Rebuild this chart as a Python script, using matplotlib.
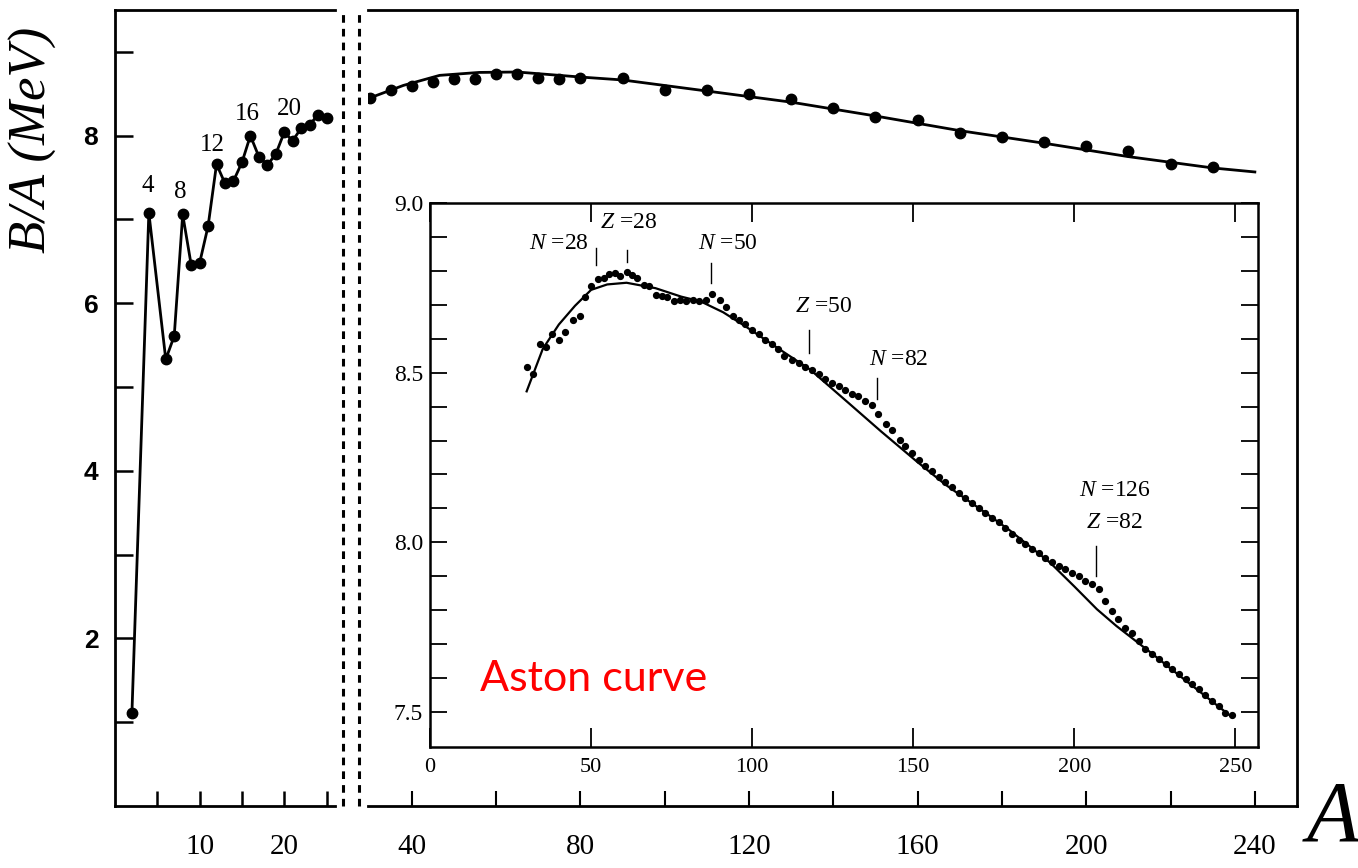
import matplotlib
matplotlib.use("Agg")
import matplotlib.pyplot as plt
from matplotlib.lines import Line2D
from matplotlib.ticker import FixedLocator

plt.rcParams['font.family'] = ['Liberation Serif', 'DejaVu Serif']
plt.rcParams['mathtext.fontset'] = 'custom'
plt.rcParams['mathtext.it'] = 'Liberation Serif:italic'
plt.rcParams['mathtext.rm'] = 'Liberation Serif'

# light nuclei, A = 2..25
light_A = [2, 4, 6, 7, 8, 9, 10, 11, 12, 13, 14, 15, 16, 17, 18, 19, 20, 21, 22, 23, 24, 25]
light_B = [1.11, 7.08, 5.33, 5.61, 7.06, 6.46, 6.48, 6.92, 7.66, 7.43, 7.46, 7.68, 8.00,
           7.75, 7.65, 7.78, 8.04, 7.94, 8.09, 8.13, 8.25, 8.21]
light_tags = ["4", "8", "12", "16", "20"]
light_tag_A = [3.9, 7.7, 11.5, 15.7, 20.6]
light_tag_B = [7.40, 7.33, 7.89, 8.26, 8.32]

# heavier nuclei, main panel
heavy_A = [30, 35, 40, 45, 50, 55, 60, 65, 70, 75, 80, 90, 100, 110, 120, 130, 140,
           150, 160, 170, 180, 190, 200, 210, 220, 230]
heavy_B = [8.45, 8.545, 8.593, 8.64, 8.677, 8.677, 8.736, 8.736, 8.689, 8.677, 8.689,
           8.689, 8.545, 8.545, 8.498, 8.438, 8.33, 8.223, 8.187, 8.032, 7.985, 7.925,
           7.878, 7.817, 7.662, 7.627]
heavy_fit_A = [30, 38, 46.6, 56, 65, 80, 90, 110, 130, 150, 170, 190, 210, 230, 240]
heavy_fit_B = [8.45, 8.60, 8.72, 8.755, 8.76, 8.70, 8.665, 8.533, 8.40, 8.235, 8.06,
               7.91, 7.75, 7.615, 7.567]

# inset: measured values
inset_A = [30, 32, 34, 36, 38, 40, 42, 44.5, 46.5, 48,
           50, 52, 54, 55.7, 57.5, 59, 61, 62.7, 64.2, 66.3,
           68, 70, 72, 73.7, 75.6, 77.6, 79.5, 81.6, 83.6, 85.7,
           87.5, 90, 92, 94, 95.8, 97.8, 100, 102, 104, 106,
           108, 110, 112.3, 114.4, 116.5, 118.5, 120.6, 122.7, 124.7, 126.8,
           128.9, 131, 133, 135, 137.2, 139.2, 141.5, 143.4, 145.8, 147.5,
           149.6, 151.7, 153.7, 155.8, 157.9, 160, 162, 164.1, 166.1, 168.2,
           170.3, 172.4, 174.4, 176.5, 178.6, 180.6, 182.7, 184.8, 186.9, 189,
           191, 193.1, 195.1, 197.2, 199.3, 201.3, 203.4, 205.5, 207.6, 209.6,
           211.7, 213.5, 215.8, 217.9, 220, 222, 224.1, 226.2, 228.3, 230.3,
           232.4, 234.5, 236.5, 238.6, 240.7, 242.8, 244.8, 246.9, 249]
inset_B = [8.518, 8.497, 8.585, 8.577, 8.615, 8.595, 8.619, 8.654, 8.666, 8.723,
           8.754, 8.775, 8.778, 8.791, 8.793, 8.785, 8.798, 8.788, 8.778, 8.759,
           8.754, 8.729, 8.726, 8.723, 8.710, 8.715, 8.710, 8.713, 8.710, 8.713,
           8.732, 8.715, 8.693, 8.666, 8.654, 8.644, 8.627, 8.615, 8.595, 8.585,
           8.570, 8.550, 8.538, 8.528, 8.517, 8.509, 8.497, 8.481, 8.470, 8.460,
           8.450, 8.438, 8.430, 8.416, 8.406, 8.379, 8.350, 8.332, 8.303, 8.283,
           8.262, 8.244, 8.224, 8.210, 8.193, 8.177, 8.164, 8.146, 8.131, 8.117,
           8.102, 8.087, 8.073, 8.060, 8.043, 8.026, 8.007, 7.994, 7.979, 7.968,
           7.955, 7.942, 7.930, 7.921, 7.911, 7.901, 7.886, 7.876, 7.864, 7.827,
           7.798, 7.774, 7.749, 7.734, 7.710, 7.687, 7.671, 7.656, 7.641, 7.626,
           7.612, 7.597, 7.582, 7.568, 7.550, 7.533, 7.517, 7.497, 7.490]
# inset: fitted curve
inset_fit_A = [30, 35, 40, 45, 50, 55, 61, 70, 78, 84, 91, 98, 108, 118, 130, 140, 151,
               160, 172, 180, 192.5, 200, 207, 213, 223.6, 234, 248.4]
inset_fit_B = [8.445, 8.57, 8.642, 8.697, 8.744, 8.76, 8.765, 8.749, 8.724, 8.71, 8.678,
               8.636, 8.572, 8.509, 8.41, 8.327, 8.239, 8.17, 8.09, 8.035, 7.94, 7.87,
               7.803, 7.754, 7.676, 7.597, 7.489]

# magic number marks: label, text A, text B, tick A, tick B bottom, tick B top
magic_labels = [r"$N$ =28", r"$Z$ =28", r"$N$ =50", r"$Z$ =50", r"$N$ =82", r"$N$ =126" + "\n" + r"$Z$ =82"]
magic_text_A = [40.0, 61.5, 92.5, 122.0, 145.5, 212.5]
magic_text_B = [8.882, 8.944, 8.882, 8.694, 8.538, 8.105]
magic_tick_A = [51.6, 61.2, 87.3, 117.7, 138.8, 206.8]
magic_tick_lo = [8.818, 8.826, 8.765, 8.559, 8.421, 7.900]
magic_tick_hi = [8.868, 8.862, 8.824, 8.626, 8.485, 7.988]

W, H = 1358, 868
fig = plt.figure(figsize=(W / 100, H / 100), dpi=100)

def box(x0, y0, x1, y1):
    # pixel box (top-left origin) -> figure fraction rect
    return [x0 / W, 1 - y1 / H, (x1 - x0) / W, (y1 - y0) / H]

lw_axis = 2.0

# ---- left panel (light nuclei)
ax_l = fig.add_axes(box(115, 10, 335, 806))
ax_l.plot(light_A, light_B, color='k', lw=2, marker='o', ms=7.5, clip_on=False)
for t, a, b in zip(light_tags, light_tag_A, light_tag_B):
    ax_l.text(a, b, t, ha='center', va='center', fontsize=18)
ax_l.set_xlim(0, 26)
ax_l.set_ylim(0, 9.5)
ax_l.spines['right'].set_visible(False)
for s in ['left', 'top', 'bottom']:
    ax_l.spines[s].set_linewidth(lw_axis)
ax_l.set_xticks([10, 20])
ax_l.xaxis.set_minor_locator(FixedLocator([5, 15, 25]))
ax_l.set_yticks([2, 4, 6, 8])
ax_l.yaxis.set_minor_locator(FixedLocator([1, 3, 5, 7, 9]))
ax_l.tick_params(which='both', direction='in', width=1.8)
ax_l.tick_params(axis='y', which='both', length=13, pad=12)
ax_l.tick_params(axis='x', which='both', length=11, pad=20, labelsize=21)
for lbl in ax_l.get_yticklabels():
    lbl.set_fontfamily('Liberation Sans')
    lbl.set_fontweight('bold')
    lbl.set_fontsize(19)

# ---- right panel (heavier nuclei)
ax_r = fig.add_axes(box(368, 10, 1297, 806))
ax_r.plot(heavy_fit_A, heavy_fit_B, color='k', lw=2)
ax_r.plot(heavy_A, heavy_B, 'o', color='k', ms=7.5)
ax_r.set_xlim(29.6, 250)
ax_r.set_ylim(0, 9.5)
ax_r.spines['left'].set_visible(False)
for s in ['right', 'top', 'bottom']:
    ax_r.spines[s].set_linewidth(lw_axis)
ax_r.set_yticks([])
ax_r.set_xticks([40, 80, 120, 160, 200, 240])
ax_r.xaxis.set_minor_locator(FixedLocator([60, 100, 140, 180, 220]))
ax_r.tick_params(axis='x', which='both', direction='in', length=11, width=1.5,
                 pad=20, labelsize=21)

# ---- broken-axis dashed separators
for xp in [343, 359]:
    fig.add_artist(Line2D([xp / W, xp / W], [1 - 806 / H, 1 - 10 / H],
                          transform=fig.transFigure, color='k', lw=2.2,
                          ls=(0, (2.5, 2))))

# ---- inset
ax_in = fig.add_axes(box(430, 203, 1258, 747))
ax_in.plot(inset_fit_A, inset_fit_B, color='k', lw=1.6)
ax_in.plot(inset_A, inset_B, 'o', color='k', ms=4.2)
for lab, ta, tb, ka, lo, hi in zip(magic_labels, magic_text_A, magic_text_B,
                                    magic_tick_A, magic_tick_lo, magic_tick_hi):
    ax_in.text(ta, tb, lab, ha='center', va='center', fontsize=17, linespacing=1.7)
    ax_in.plot([ka, ka], [lo, hi], color='k', lw=1)
ax_in.text(15.5, 7.562, "Aston curve", color='red', fontsize=31, family='Lato',
           ha='left', va='baseline')
ax_in.set_xlim(0, 257)
ax_in.set_ylim(7.397, 9.0)
for s in ax_in.spines.values():
    s.set_linewidth(1.8)
ax_in.set_xticks([0, 50, 100, 150, 200, 250])
ax_in.set_yticks([7.5, 8.0, 8.5, 9.0])
ax_in.set_yticklabels(["7.5", "8.0", "8.5", "9.0"])
ax_in.yaxis.set_minor_locator(FixedLocator([7.6, 7.7, 7.8, 7.9, 8.1, 8.2, 8.3, 8.4,
                                            8.6, 8.7, 8.8, 8.9]))
ax_in.tick_params(which='both', direction='in', top=True, right=True, width=1.3)
ax_in.tick_params(axis='x', length=14, pad=8, labelsize=16)
ax_in.tick_params(axis='y', which='both', length=12, pad=5, labelsize=17)

# ---- axis titles
fig.text(33 / W, 1 - 140 / H, "B/A (MeV)", rotation=90, ha='center', va='center',
         fontsize=38, style='italic')
fig.text(1333 / W, 1 - 820 / H, "A", ha='center', va='center', fontsize=62,
         style='italic')

fig.savefig("out.png", dpi=100)
